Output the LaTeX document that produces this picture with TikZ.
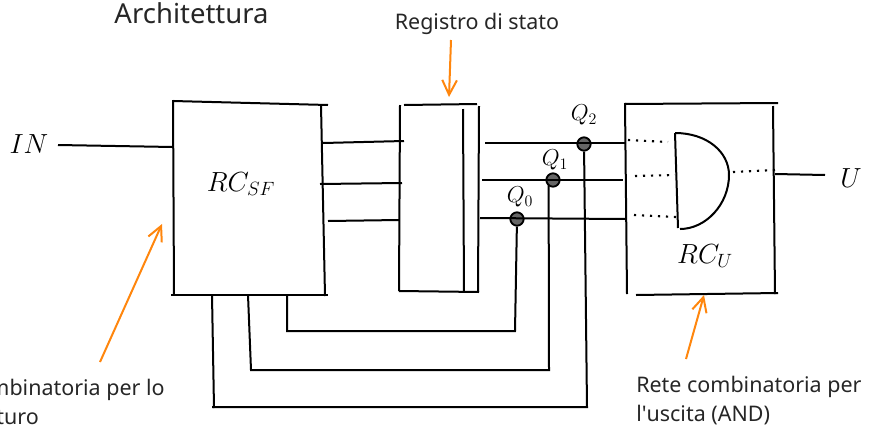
\documentclass[tikz,border=0pt]{standalone}
\usepackage{fontspec}
\setmainfont{Noto Sans}
\definecolor{arrowor}{HTML}{FF860D}
\definecolor{dotgray}{HTML}{666666}
\definecolor{textdark}{HTML}{262626}
\usetikzlibrary{arrows.meta}
\tikzset{
  x=0.75pt,y=-0.75pt,
  wire/.style={draw=black,line width=1.5pt},
  dotw/.style={draw=black,line width=1.6pt,dash pattern=on 1.6pt off 4.4pt},
  note/.style={draw=arrowor,line width=1.5pt,-{Straight Barb[length=11pt,width=11pt,line width=1.5pt]}},
  tap/.style={circle,draw=black,fill=dotgray,line width=1.4pt,minimum size=10pt,inner sep=0pt},
  lab/.style={inner sep=0pt,text=textdark,font=\fontsize{16.1}{21.6}\selectfont},
  mlab/.style={inner sep=0pt,font=\fontsize{21.5}{24}\selectfont},
  qlab/.style={inner sep=0pt,font=\fontsize{16.5}{18}\selectfont}
}
\begin{document}
\begin{tikzpicture}
\useasboundingbox (0,0) rectangle (875,429);
% labels
\node[lab,font=\fontsize{20.6}{24}\selectfont] (arch) at (191.5,13) {Architettura};
\node[lab] (reg) at (477,24) {Registro di stato};
\node[lab,anchor=north west,align=left] (rsf) at (-85,379) {Rete combinatoria per lo\\\hspace{3pt}stato futuro};
\node[lab,anchor=north west,align=left] (ru) at (636,376) {Rete combinatoria per\\l\textquotesingle uscita (AND)};
\node[mlab] (in) at (29,144) {$IN$};
\node[mlab] (u) at (851,178) {$U$};
\node[mlab] (rcsf) at (241,184) {$RC_{SF}$};
\node[mlab] (rcu) at (705,256) {$RC_{U}$};
% RC_SF
\coordinate (a1) at (173,101); \coordinate (a2) at (328,105);
\draw[wire] (173,100) -- (174,295);
\draw[wire] (a1) -- (a2);
\draw[wire] (321,105) -- (325,296);
\draw[wire] (171,295) -- (328,295);
\coordinate (inr) at (58,145); \coordinate (inl) at (173,147);
\draw[wire] (inr) -- (inl);
% to register
\draw[wire] (323,143) -- (404,141);
\draw[wire] (320,184) -- (402,183);
\draw[wire] (328,221) -- (399,220);
% register
\draw[wire] (400,105) -- (399,291);
\draw[wire] (404,105) -- (477,104);
\draw[wire] (463,109) -- (464,292);
\draw[wire] (479,106) -- (478,292);
\draw[wire] (399,291) -- (479,292);
% Q lines
\node[tap] (q2) at (584,144) {};
\node[tap] (q1) at (553,180) {};
\node[tap] (q0) at (517,219) {};
\draw[wire] (485,143) -- (626,143);
\draw[wire] (482,180) -- (623,180);
\draw[wire] (480,218) -- (626,219);
\node[qlab] (l2) at (584,115) {$Q_2$};
\node[qlab] (l1) at (555,160) {$Q_1$};
\node[qlab] (l0) at (520,197) {$Q_0$};
% RC_U
\draw[wire] (625,103) -- (627,294);
\draw[wire] (624,104) -- (778,103);
\draw[wire] (773,106) -- (775,294);
\draw[wire] (636,295) -- (778,293);
% AND
\draw[wire] (675,133) -- (678,228);
\draw[wire] (675,133) .. controls (707,133) and (729,152) .. (729,175) .. controls (729,204) and (706,229) .. (680,229);
\draw[dotw] (628,140) -- (668,142);
\draw[dotw] (635,176) -- (675,175);
\draw[dotw] (634,215) -- (676,217);
\draw[dotw] (733,172) -- (775,170);
\draw[wire] (775,174) -- (825,175);
% feedback
\coordinate (c0) at (515,331); \coordinate (d0) at (287,331);
\draw[wire] (q0) -- (c0) -- (d0) -- (287,295);
\coordinate (c1) at (549,370); \coordinate (d1) at (251,370);
\draw[wire] (q1.south west) ++(1,0) -- (c1) -- (d1) -- (248,295);
\coordinate (c2) at (587,407); \coordinate (d2) at (212,407);
\draw[wire] (q2) -- (c2) -- (d2);
\draw[wire] (214,408) -- (212,295);
% orange
\coordinate (o1) at (100,362); \coordinate (o2) at (162,224);
\draw[note] (o1) -- (o2);
\coordinate (o3) at (451,40); \coordinate (o4) at (449,97);
\draw[note] (o3) -- (o4);
\coordinate (o5) at (686,359); \coordinate (o6) at (704,295);
\draw[note] (o5) -- (o6);
\end{tikzpicture}
\end{document}
